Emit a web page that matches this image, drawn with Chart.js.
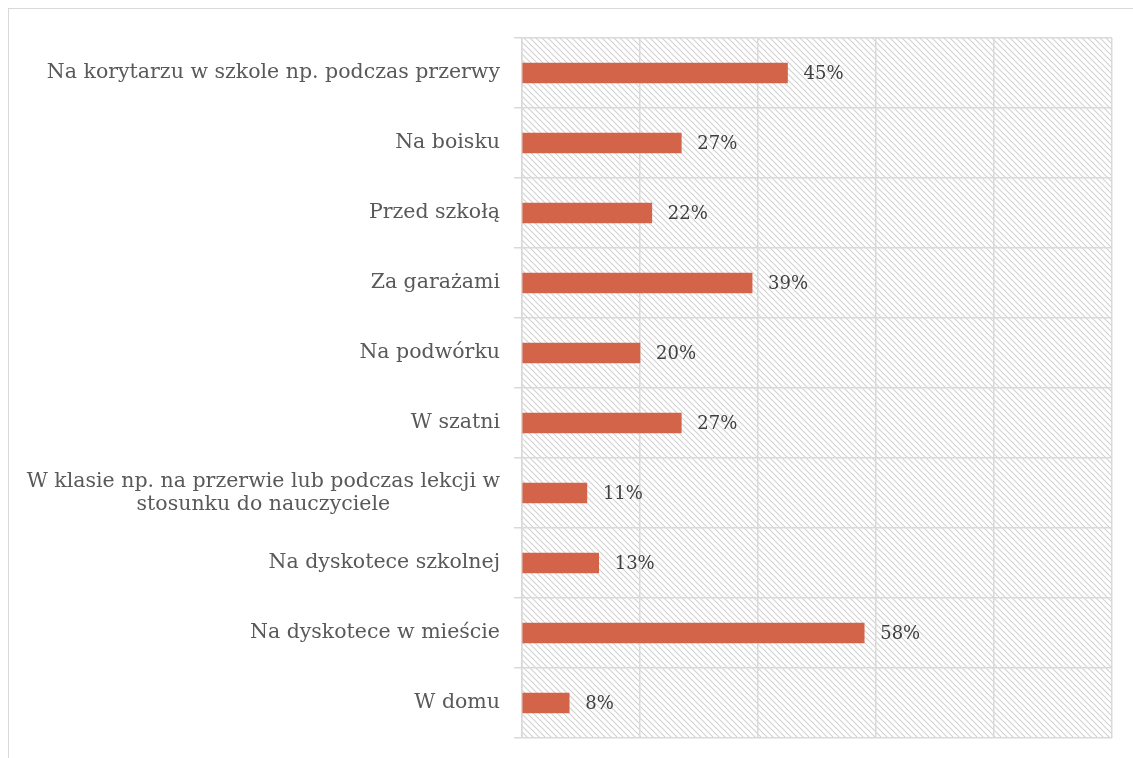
<!DOCTYPE html>
<html>
<head>
<meta charset="utf-8">
<script src="https://cdn.jsdelivr.net/npm/chart.js@4"></script>
<style>
  body { margin: 0; background: #fff; }
  #ramka { position: absolute; left: 8px; top: 8px; width: 1300px; height: 900px; border: 1.5px solid #d9d9d9; }
  #wrap { position: absolute; left: 0; top: 0; width: 1133px; height: 758px; }
</style>
</head>
<body>
<div id="ramka"></div>
<div id="wrap"><canvas id="wykres"></canvas></div>
<script>
// Dane wykresu
const kategorie = [
  'Na korytarzu w szkole np. podczas przerwy',
  'Na boisku',
  'Przed szkołą',
  'Za garażami',
  'Na podwórku',
  'W szatni',
  ['W klasie np. na przerwie lub podczas lekcji w', 'stosunku do nauczyciele'],
  'Na dyskotece szkolnej',
  'Na dyskotece w mieście',
  'W domu'
];
const wartosci = [45, 27, 22, 39, 20, 27, 11, 13, 58, 8];
const osX = [0, 20, 40, 60, 80, 100];

const kolorSlupka = '#d3644a';

// Wzór kreskowania tła
function wzorKreski(ctx) {
  const c = document.createElement('canvas');
  c.width = 6; c.height = 6;
  const g = c.getContext('2d');
  g.strokeStyle = '#d2d2d2';
  g.lineWidth = 1.1;
  g.beginPath();
  g.moveTo(0, 0); g.lineTo(6, 6);
  g.moveTo(-3, 3); g.lineTo(3, 9);
  g.moveTo(3, -3); g.lineTo(9, 3);
  g.stroke();
  return ctx.createPattern(c, 'repeat');
}

const tloPlugin = {
  id: 'tlo',
  beforeDraw(chart) {
    const { ctx, chartArea: a } = chart;
    ctx.save();
    ctx.fillStyle = wzorKreski(ctx);
    ctx.fillRect(a.left, a.top, a.right - a.left, a.bottom - a.top);
    ctx.restore();
  }
};

// Etykiety kategorii: blok wyrównany do prawej, linie wyśrodkowane
const etykietyPlugin = {
  id: 'etykiety',
  afterDraw(chart) {
    const { ctx } = chart;
    const y = chart.scales.y;
    ctx.save();
    ctx.font = '20.5px "DejaVu Serif"';
    ctx.fillStyle = '#595959';
    ctx.textAlign = 'center';
    ctx.textBaseline = 'middle';
    const prawa = chart.chartArea.left - 22;
    kategorie.forEach((lab, i) => {
      const linie = Array.isArray(lab) ? lab : [lab];
      const szer = Math.max(...linie.map(l => ctx.measureText(l).width));
      const cx = prawa - szer / 2;
      const py = y.getPixelForValue(i);
      const lh = 23;
      linie.forEach((l, j) => {
        ctx.fillText(l, cx, py + (j - (linie.length - 1) / 2) * lh);
      });
    });
    // wartości przy słupkach
    ctx.font = '18px "DejaVu Serif"';
    ctx.fillStyle = '#404040';
    ctx.textAlign = 'left';
    const meta = chart.getDatasetMeta(0);
    meta.data.forEach((bar, i) => {
      ctx.fillText(wartosci[i] + '%', bar.x + 16, bar.y + 1);
    });
    ctx.restore();
  }
};

const ctx = document.getElementById('wykres').getContext('2d');
new Chart(ctx, {
  type: 'bar',
  data: {
    labels: kategorie,
    datasets: [{
      data: wartosci,
      backgroundColor: kolorSlupka,
      barThickness: 20
    }]
  },
  options: {
    indexAxis: 'y',
    responsive: true,
    maintainAspectRatio: false,
    animation: false,
    layout: { padding: { top: 38, right: 21, bottom: 20, left: 0 } },
    plugins: { legend: { display: false }, tooltip: { enabled: false } },
    scales: {
      x: {
        min: osX[0],
        max: osX[osX.length - 1],
        afterBuildTicks: s => { s.ticks = osX.map(v => ({ value: v })); },
        ticks: { display: false },
        grid: { color: '#d9d9d9', lineWidth: 1.5, drawTicks: false },
        border: { display: false }
      },
      y: {
        ticks: { display: false },
        afterFit: s => { s.width = 522; },
        grid: { color: '#d9d9d9', lineWidth: 1.5, tickLength: 8, offset: true },
        border: { color: '#d9d9d9', width: 1.5 }
      }
    }
  },
  plugins: [tloPlugin, etykietyPlugin]
});
</script>
</body>
</html>
